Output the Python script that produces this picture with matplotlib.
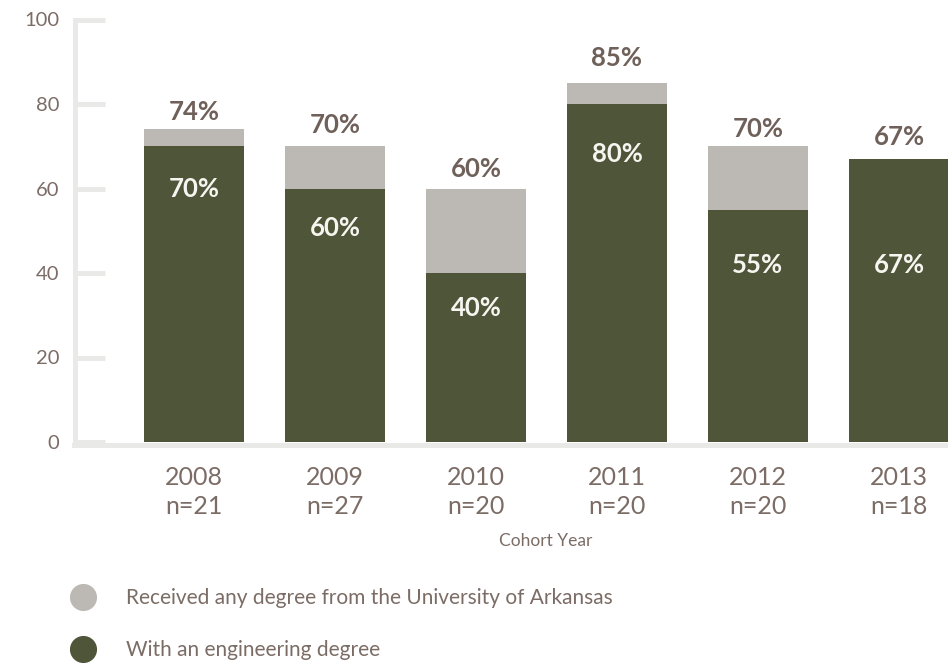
import matplotlib
matplotlib.use("Agg")
import matplotlib.pyplot as plt
from matplotlib.lines import Line2D

# Cohort data
years = ["2008", "2009", "2010", "2011", "2012", "2013"]
cohort_n = [21, 27, 20, 20, 20, 18]
any_degree = [74, 70, 60, 85, 70, 67]          # % receiving any UA degree
engineering = [70, 60, 40, 80, 55, 67]         # % with an engineering degree
y_ticks = [0, 20, 40, 60, 80, 100]

# Label placement (data units)
top_label_y = [78.2, 75.0, 64.6, 90.8, 74.2, 72.1]
inner_label_y = [59.9, 50.7, 31.7, 68.2, 41.8, 41.8]

GREEN = "#4f5538"
GRAY = "#bcb9b4"
AXIS = "#e9e9e7"
TEXT = "#7b6c65"
LABEL = "#6f6059"

plt.rcParams["font.family"] = ["Lato", "DejaVu Sans"]

W, H = 948, 665
fig = plt.figure(figsize=(W / 100, H / 100), dpi=100)
ax = fig.add_axes([74.5 / W, (H - 442) / H, (W - 74.5) / W, (442 - 19.5) / H])

x = list(range(len(years)))
bar_w = 100 / 141
ax.bar(x, any_degree, width=bar_w, color=GRAY, zorder=3)
ax.bar(x, engineering, width=bar_w, color=GREEN, zorder=3)

for xi, a, e, ty, iy in zip(x, any_degree, engineering, top_label_y, inner_label_y):
    ax.text(xi, ty, f"{a}%", ha="center", va="center", fontsize=18.5,
            fontweight="bold", color=LABEL, clip_on=False)
    ax.text(xi, iy, f"{e}%", ha="center", va="center", fontsize=18.5,
            fontweight="bold", color="#f7f5f0", zorder=4)

ax.set_xlim(-(194 - 74.5) / 141, (W - 194) / 141)
ax.set_ylim(0, 100)
ax.set_yticks(y_ticks)
ax.set_yticklabels([str(t) for t in y_ticks])
ax.set_xticks(x)
ax.set_xticklabels([f"{y}\nn={n}" for y, n in zip(years, cohort_n)])

for side in ("top", "right"):
    ax.spines[side].set_visible(False)
for side in ("left", "bottom"):
    ax.spines[side].set_color(AXIS)
    ax.spines[side].set_linewidth(3.6)
ax.spines["bottom"].set_position(("outward", 2.2))

ax.tick_params(axis="y", direction="in", length=21.6, width=3.6, color=AXIS,
               labelsize=14.5, labelcolor=TEXT, pad=11)
ax.tick_params(axis="x", length=0, labelsize=18, labelcolor=TEXT, pad=15)
for lbl in ax.get_xticklabels():
    lbl.set_linespacing(1.3)

fig.text(546 / W, 1 - 541 / H, "Cohort Year", ha="center", va="center",
         fontsize=12.5, color=TEXT)

handles = [
    Line2D([], [], marker="o", linestyle="", markersize=18.5, color=GRAY),
    Line2D([], [], marker="o", linestyle="", markersize=18.5, color=GREEN),
]
labels = ["Received any degree from the University of Arkansas",
          "With an engineering degree"]
fig.legend(handles, labels, loc="upper left",
           bbox_to_anchor=(73 / W, 1 - 588 / H), frameon=False,
           fontsize=15, labelcolor=TEXT, handlelength=1.0,
           handletextpad=1.55, labelspacing=1.55, borderpad=0,
           borderaxespad=0)

fig.savefig("out.png", dpi=100)
